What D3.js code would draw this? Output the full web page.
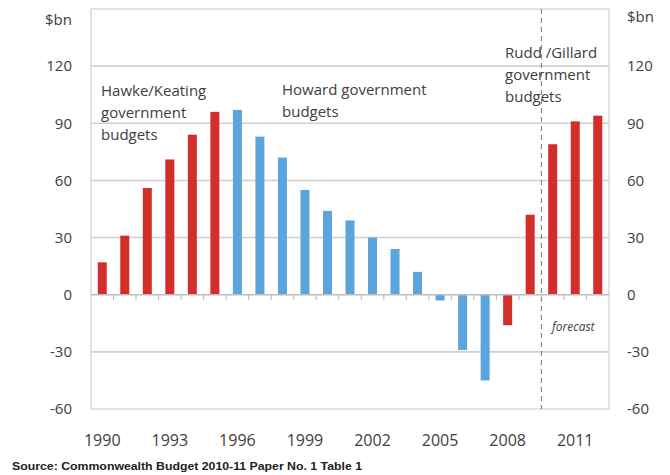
<!DOCTYPE html>
<html><head><meta charset="utf-8">
<script src="https://cdn.jsdelivr.net/npm/d3@7/dist/d3.min.js"></script>
<style>body{margin:0;background:#fff}svg{display:block}</style>
</head><body>
<svg id="c" width="670" height="475"></svg>
<script>
const years = [1990,1991,1992,1993,1994,1995,1996,1997,1998,1999,2000,2001,2002,2003,2004,2005,2006,2007,2008,2009,2010,2011,2012];
const values = [17,31,56,71,84,96,97,83,72,55,44,39,30,24,12,-3,-29,-45,-16,42,79,91,94];
const govt = ["HK","HK","HK","HK","HK","HK","H","H","H","H","H","H","H","H","H","H","H","H","RG","RG","RG","RG","RG"];
const yTicks = [-60,-30,0,30,60,90,120];
const xLabelYears = [1990,1993,1996,1999,2002,2005,2008,2011];

const svg = d3.select("#c");
const L=91,R=609,T=9,B=409;
const x = d3.scaleBand().domain(years).range([L,R]).paddingInner(0.6).paddingOuter(0.3);
const y = d3.scaleLinear().domain([-60,150]).range([B,T]);
const font = "'Open Sans', 'Liberation Sans', sans-serif";
const txt = "#404040";

// grid
svg.append("g").selectAll("line").data(yTicks.filter(d=>d!==0 && d!==-60)).join("line")
  .attr("x1",L).attr("x2",R).attr("y1",d=>y(d)).attr("y2",d=>y(d))
  .attr("stroke","#cfcfcf").attr("stroke-width",1.6);
// border
svg.append("rect").attr("x",L).attr("y",T).attr("width",R-L).attr("height",B-T)
  .attr("fill","none").attr("stroke","#d6d6d6").attr("stroke-width",1.4);

// bars
const colors = {HK:"#d22e2a",H:"#5aa5db",RG:"#d22e2a"};
svg.append("g").selectAll("rect").data(years).join("rect")
  .attr("x",d=>x(d)).attr("width",x.bandwidth())
  .attr("y",(d,i)=>y(Math.max(0,values[i])))
  .attr("height",(d,i)=>Math.abs(y(values[i])-y(0)))
  .attr("fill",(d,i)=>colors[govt[i]]);

// zero axis
svg.append("line").attr("x1",L).attr("x2",R).attr("y1",y(0)).attr("y2",y(0))
  .attr("stroke","#bdbdbd").attr("stroke-width",1.4);
const step = x.step();
svg.append("g").selectAll("line").data(years.slice(1)).join("line")
  .attr("x1",d=>x(d)-step*0.3).attr("x2",d=>x(d)-step*0.3)
  .attr("y1",y(0)).attr("y2",y(0)+5).attr("stroke","#bdbdbd").attr("stroke-width",1.2);

// dashed forecast line
const fx = x(2010)-step*0.3;
svg.append("line").attr("x1",fx).attr("x2",fx).attr("y1",T).attr("y2",B)
  .attr("stroke","#8a8a8a").attr("stroke-width",1.2).attr("stroke-dasharray","5,4");

// y labels
const yl = svg.append("g").attr("font-family",font).attr("font-size",15).attr("fill",txt);
yl.selectAll("text.l").data(yTicks).join("text").attr("class","l")
  .attr("x",72).attr("y",d=>y(d)).attr("dy","0.35em").attr("text-anchor","end").text(d=>d);
yl.selectAll("text.r").data(yTicks).join("text").attr("class","r")
  .attr("x",627).attr("y",d=>y(d)).attr("dy","0.35em").attr("text-anchor","start").text(d=>d);
yl.append("text").attr("x",72).attr("y",20).attr("dy","0.35em").attr("text-anchor","end").text("$bn");
yl.append("text").attr("x",627).attr("y",17).attr("dy","0.35em").text("$bn");

// x labels
svg.append("g").attr("font-family",font).attr("font-size",16).attr("fill",txt)
  .selectAll("text").data(xLabelYears).join("text")
  .attr("x",d=>x(d)+x.bandwidth()/2).attr("y",440).attr("dy","0.35em")
  .attr("text-anchor","middle").text(d=>d);

// annotations
function block(lines,x0,y0){
  const g = svg.append("text").attr("font-family",font).attr("font-size",15).attr("fill",txt);
  lines.forEach((s,i)=>g.append("tspan").attr("x",x0).attr("y",y0+i*22).attr("dy","0.35em").text(s));
}
block(["Hawke/Keating","government","budgets"],101,91);
block(["Howard government","budgets"],282,90);
block(["Rudd /Gillard","government","budgets"],505,53);
svg.append("text").attr("x",552).attr("y",327).attr("dy","0.35em").attr("font-family",font)
  .attr("font-size",12).attr("font-style","italic").attr("fill",txt).text("forecast");

// source
svg.append("text").attr("x",12).attr("y",466).attr("dy","0.35em")
  .attr("font-family","'Liberation Sans Narrow','Liberation Sans',sans-serif").attr("font-weight","bold")
  .attr("font-size",11).attr("fill","#222").attr("textLength",350).attr("lengthAdjust","spacingAndGlyphs")
  .text("Source: Commonwealth Budget 2010-11 Paper No. 1  Table 1");
</script>
</body></html>
